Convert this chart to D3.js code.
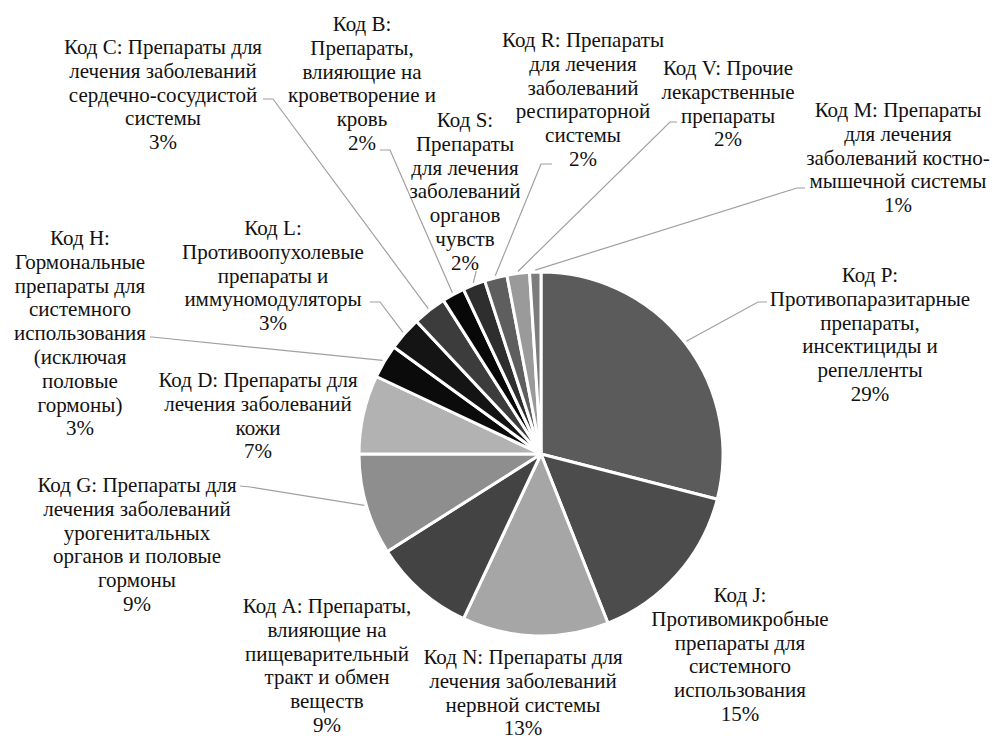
<!DOCTYPE html>
<html>
<head>
<meta charset="utf-8">
<script src="https://cdn.jsdelivr.net/npm/d3@7"></script>
<style>
  body { margin: 0; background: #fff; }
</style>
</head>
<body>
<svg id="chart"></svg>
<script>
// ATC groups, clockwise from 12 o'clock
const codes = ["P", "J", "N", "A", "G", "D", "H", "L", "C", "B", "S", "R", "V", "M"];
const shares = [29, 15, 13, 9, 9, 7, 3, 3, 3, 2, 2, 2, 2, 1];
const labelLines = [
    ["Код P:", "Противопаразитарные", "препараты,", "инсектициды и", "репелленты"],
    ["Код J:", "Противомикробные", "препараты для", "системного", "использования"],
    ["Код N: Препараты для", "лечения заболеваний", "нервной системы"],
    ["Код A: Препараты,", "влияющие на", "пищеварительный", "тракт и обмен", "веществ"],
    ["Код G: Препараты для", "лечения заболеваний", "урогенитальных", "органов и половые", "гормоны"],
    ["Код D: Препараты для", "лечения заболеваний", "кожи"],
    ["Код H:", "Гормональные", "препараты для", "системного", "использования", "(исключая", "половые", "гормоны)"],
    ["Код L:", "Противоопухолевые", "препараты и", "иммуномодуляторы"],
    ["Код C: Препараты для", "лечения заболеваний", "сердечно-сосудистой", "системы"],
    ["Код B:", "Препараты,", "влияющие на", "кроветворение и", "кровь"],
    ["Код S:", "Препараты", "для лечения", "заболеваний", "органов", "чувств"],
    ["Код R: Препараты", "для лечения", "заболеваний", "респираторной", "системы"],
    ["Код V: Прочие", "лекарственные", "препараты"],
    ["Код M: Препараты", "для лечения", "заболеваний костно-", "мышечной системы"]
];
const sliceColors = ["#5b5b5b", "#4c4c4c", "#a6a6a6", "#434343", "#8e8e8e", "#b2b2b2",
    "#0b0b0b", "#141414", "#3c3c3c", "#080808", "#2e2e2e", "#5e5e5e", "#9a9a9a", "#7c7c7c"];

// label layout: text block centre x, first line y, and leader tick (start, end) or null
const labelLayout = {
    P: { x: 870, y: 275, lead: [[767, 302], [758, 302]] },
    J: { x: 740, y: 595, lead: null },
    N: { x: 523, y: 657, lead: null },
    A: { x: 327, y: 606, lead: null },
    G: { x: 137, y: 485, lead: [[240, 486], [250, 487]] },
    D: { x: 258, y: 380, lead: null },
    H: { x: 80, y: 238, lead: [[150, 337], [152, 337]] },
    L: { x: 273, y: 228, lead: [[370, 302], [380, 302]] },
    C: { x: 163, y: 47, lead: [[263, 99], [273, 99]] },
    B: { x: 362, y: 24, lead: [[380, 150], [390, 150]] },
    S: { x: 465, y: 120, lead: [[476, 271], [476, 272]] },
    R: { x: 583, y: 40, lead: [[552, 164], [541, 164]] },
    V: { x: 728, y: 68, lead: [[677, 122], [670, 122]] },
    M: { x: 898, y: 110, lead: [[805, 188], [797, 188]] }
};

const width = 994;
const height = 736;
const cx = 541, cy = 454, radius = 182;
const lineH = 23.8;

const svg = d3.select("#chart")
    .attr("width", width)
    .attr("height", height);

const data = codes.map((c, i) => ({ code: c, value: shares[i], lines: labelLines[i], color: sliceColors[i] }));

const pie = d3.pie().sort(null).value(d => d.value);
const arcs = pie(data);
const arc = d3.arc().innerRadius(0).outerRadius(radius);

const g = svg.append("g").attr("transform", `translate(${cx},${cy})`);

g.selectAll("path.slice")
    .data(arcs)
    .enter().append("path")
    .attr("class", "slice")
    .attr("d", arc)
    .attr("fill", d => d.data.color)
    .attr("stroke", "#fff")
    .attr("stroke-width", 3)
    .attr("stroke-linejoin", "round");

// leader lines: tick near the label, then straight to the middle of the slice's rim
const leaders = svg.append("g");
arcs.forEach(a => {
    const lay = labelLayout[a.data.code];
    if (!lay.lead) return;
    const mid = (a.startAngle + a.endAngle) / 2;
    const ex = cx + Math.sin(mid) * (radius + 2);
    const ey = cy - Math.cos(mid) * (radius + 2);
    const pts = [lay.lead[0], lay.lead[1], [ex, ey]];
    leaders.append("path")
        .attr("d", d3.line()(pts))
        .attr("fill", "none")
        .attr("stroke", "#a0a0a0")
        .attr("stroke-width", 1.2);
});

// labels
const labels = svg.append("g");
arcs.forEach(a => {
    const lay = labelLayout[a.data.code];
    const all = a.data.lines.concat([a.data.value + "%"]);
    const t = labels.append("text")
        .attr("text-anchor", "middle")
        .style("font-family", "'Liberation Serif'")
        .style("font-size", "21px")
        .style("fill", "#111")
        .attr("x", lay.x)
        .attr("y", lay.y + 7);
    all.forEach((ln, i) => {
        t.append("tspan")
            .attr("x", lay.x)
            .attr("dy", i === 0 ? 0 : lineH)
            .text(ln);
    });
});
</script>
</body>
</html>
